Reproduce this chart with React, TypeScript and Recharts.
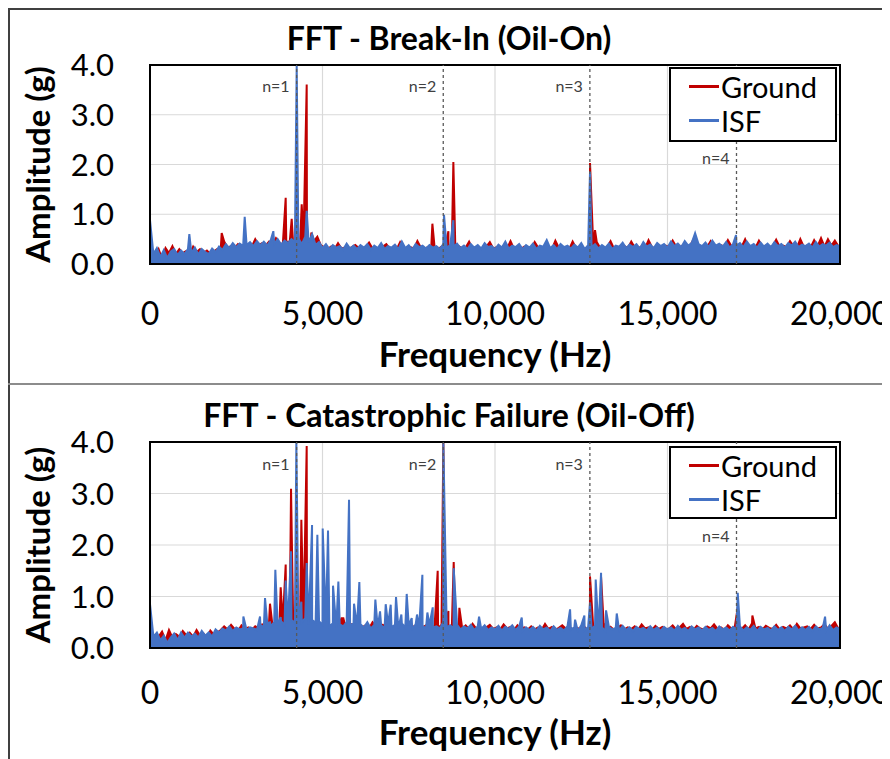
import {
  AreaChart,
  Area,
  XAxis,
  YAxis,
  CartesianGrid,
  ReferenceLine,
  ReferenceArea,
  Legend,
} from "recharts";

const FONT = "Lato, 'Open Sans', sans-serif";
const RED = "#c00000";
const BLUE = "#4472c4";
const W = 882;

const FREQ_TICKS = [0, 5000, 10000, 15000, 20000];
const AMP_TICKS = [0, 1, 2, 3, 4];
const HARMONICS = [4250, 8500, 12750, 17000];
const HARMONIC_LABELS = ["n=1", "n=2", "n=3", "n=4"];

// noise floor: ISF at 0,100,...,20000 Hz, Ground at 50,150,...,19950 Hz
const oilOnIsfFloor = [
  0.88, 0.2, 0.32, 0.14, 0.28, 0.12, 0.25, 0.3, 0.18, 0.27,
  0.2, 0.3, 0.22, 0.33, 0.19, 0.3, 0.24, 0.2, 0.31, 0.24,
  0.35, 0.28, 0.4, 0.32, 0.42, 0.34, 0.41, 0.36, 0.38, 0.44,
  0.36, 0.46, 0.38, 0.45, 0.37, 0.48, 0.4, 0.5, 0.39, 0.47,
  0.42, 0.5, 0.44, 0.52, 0.4, 0.55, 0.43, 0.6, 0.38, 0.44,
  0.32, 0.4, 0.3, 0.38, 0.33, 0.36, 0.29, 0.41, 0.31, 0.37,
  0.3, 0.38, 0.33, 0.4, 0.29, 0.37, 0.32, 0.42, 0.3, 0.36,
  0.33, 0.39, 0.3, 0.45, 0.32, 0.38, 0.29, 0.4, 0.34, 0.37,
  0.31, 0.38, 0.33, 0.36, 0.3, 0.4, 0.32, 0.38, 0.35, 0.41,
  0.32, 0.37, 0.3, 0.4, 0.33, 0.38, 0.31, 0.42, 0.34, 0.36,
  0.3, 0.39, 0.33, 0.45, 0.31, 0.37, 0.34, 0.4, 0.3, 0.38,
  0.33, 0.41, 0.3, 0.37, 0.35, 0.48, 0.32, 0.38, 0.3, 0.4,
  0.34, 0.37, 0.31, 0.39, 0.33, 0.42, 0.3, 0.38, 0.34, 0.4,
  0.31, 0.38, 0.33, 0.41, 0.3, 0.37, 0.35, 0.43, 0.32, 0.39,
  0.34, 0.4, 0.31, 0.44, 0.35, 0.39, 0.32, 0.42, 0.36, 0.4,
  0.33, 0.45, 0.36, 0.41, 0.34, 0.46, 0.37, 0.42, 0.35, 0.4,
  0.36, 0.43, 0.34, 0.47, 0.37, 0.41, 0.35, 0.44, 0.33, 0.4,
  0.37, 0.42, 0.34, 0.45, 0.36, 0.4, 0.33, 0.43, 0.35, 0.41,
  0.34, 0.44, 0.36, 0.4, 0.33, 0.42, 0.37, 0.45, 0.34, 0.39,
  0.36, 0.41, 0.33, 0.44, 0.35, 0.4, 0.37, 0.43, 0.34, 0.38,
  0.35,
];

const oilOnGroundFloor = [
  0.3, 0.15, 0.3, 0.1, 0.32, 0.22, 0.36, 0.2, 0.3, 0.22,
  0.26, 0.2, 0.35, 0.24, 0.3, 0.22, 0.27, 0.2, 0.25, 0.3,
  0.3, 0.45, 0.33, 0.36, 0.32, 0.4, 0.35, 0.33, 0.38, 0.35,
  0.5, 0.38, 0.42, 0.37, 0.45, 0.4, 0.52, 0.42, 0.4, 0.45,
  0.44, 0.4, 0.46, 0.42, 0.5, 0.45, 0.4, 0.46, 0.55, 0.38,
  0.33, 0.3, 0.35, 0.3, 0.42, 0.31, 0.33, 0.3, 0.34, 0.38,
  0.32, 0.3, 0.34, 0.43, 0.31, 0.33, 0.3, 0.35, 0.4, 0.31,
  0.33, 0.3, 0.44, 0.32, 0.3, 0.34, 0.31, 0.46, 0.33, 0.3,
  0.34, 0.31, 0.33, 0.3, 0.35, 0.32, 0.3, 0.42, 0.33, 0.36,
  0.31, 0.33, 0.45, 0.31, 0.34, 0.3, 0.32, 0.35, 0.44, 0.31,
  0.34, 0.3, 0.36, 0.32, 0.46, 0.31, 0.33, 0.3, 0.35, 0.33,
  0.31, 0.44, 0.33, 0.3, 0.34, 0.32, 0.3, 0.47, 0.33, 0.31,
  0.33, 0.3, 0.45, 0.32, 0.34, 0.31, 0.3, 0.35, 0.33, 0.44,
  0.32, 0.3, 0.34, 0.46, 0.31, 0.33, 0.3, 0.36, 0.32, 0.45,
  0.33, 0.31, 0.36, 0.32, 0.48, 0.34, 0.31, 0.35, 0.33, 0.37,
  0.34, 0.47, 0.35, 0.33, 0.38, 0.34, 0.36, 0.49, 0.35, 0.33,
  0.37, 0.34, 0.46, 0.35, 0.33, 0.38, 0.35, 0.48, 0.36, 0.34,
  0.38, 0.35, 0.5, 0.34, 0.36, 0.33, 0.47, 0.35, 0.37, 0.34,
  0.36, 0.49, 0.35, 0.37, 0.34, 0.46, 0.36, 0.33, 0.5, 0.35,
  0.37, 0.34, 0.48, 0.36, 0.52, 0.35, 0.5, 0.37, 0.47, 0.36,
];

// [Hz, g]
const oilOnIsfPeaks = [
  [1140, 0.6], [2745, 0.95], [3575, 0.66], [4252, 4.0], [4542, 1.07],
  [8522, 0.99], [8793, 0.88], [12754, 1.85], [15800, 0.62], [16986, 0.58],
];
const oilOnGroundPeaks = [
  [2078, 0.62], [3933, 1.33], [4107, 0.91], [4397, 1.2], [4542, 3.61], [4677, 0.63],
  [8185, 0.81], [8649, 0.66], [8793, 2.05], [12754, 2.03], [12899, 0.68],
];

const oilOffIsfFloor = [
  0.85, 0.22, 0.3, 0.15, 0.24, 0.1, 0.2, 0.28, 0.15, 0.3,
  0.2, 0.3, 0.22, 0.28, 0.2, 0.33, 0.24, 0.3, 0.22, 0.36,
  0.3, 0.38, 0.34, 0.42, 0.33, 0.4, 0.36, 0.38, 0.35, 0.4,
  0.38, 0.35, 0.45, 0.4, 0.48, 0.42, 0.5, 0.44, 0.52, 0.45,
  0.5, 0.55, 0.48, 0.6, 0.5, 0.58, 0.46, 0.55, 0.48, 0.52,
  0.45, 0.5, 0.42, 0.48, 0.4, 0.46, 0.42, 0.5, 0.44, 0.48,
  0.42, 0.46, 0.4, 0.5, 0.38, 0.45, 0.4, 0.44, 0.38, 0.46,
  0.4, 0.45, 0.38, 0.48, 0.4, 0.44, 0.37, 0.46, 0.4, 0.43,
  0.38, 0.45, 0.4, 0.42, 0.38, 0.5, 0.4, 0.44, 0.38, 0.45,
  0.36, 0.42, 0.38, 0.45, 0.35, 0.42, 0.37, 0.44, 0.35, 0.4,
  0.36, 0.43, 0.34, 0.41, 0.37, 0.44, 0.35, 0.42, 0.33, 0.4,
  0.35, 0.41, 0.34, 0.43, 0.36, 0.4, 0.33, 0.42, 0.35, 0.39,
  0.34, 0.42, 0.36, 0.4, 0.33, 0.44, 0.35, 0.41, 0.37, 0.43,
  0.35, 0.4, 0.33, 0.42, 0.36, 0.39, 0.34, 0.43, 0.35, 0.4,
  0.33, 0.41, 0.36, 0.39, 0.34, 0.42, 0.35, 0.4, 0.33, 0.41,
  0.36, 0.4, 0.34, 0.43, 0.35, 0.39, 0.33, 0.42, 0.36, 0.4,
  0.34, 0.41, 0.35, 0.39, 0.33, 0.42, 0.36, 0.4, 0.34, 0.41,
  0.36, 0.42, 0.34, 0.4, 0.35, 0.43, 0.33, 0.41, 0.36, 0.39,
  0.34, 0.42, 0.35, 0.4, 0.33, 0.41, 0.36, 0.43, 0.34, 0.4,
  0.35, 0.41, 0.33, 0.42, 0.36, 0.39, 0.34, 0.44, 0.35, 0.4,
  0.36,
];

const oilOffGroundFloor = [
  0.28, 0.18, 0.22, 0.32, 0.15, 0.35, 0.2, 0.27, 0.22, 0.33,
  0.25, 0.3, 0.22, 0.35, 0.24, 0.28, 0.2, 0.34, 0.26, 0.3,
  0.35, 0.42, 0.36, 0.45, 0.37, 0.33, 0.44, 0.36, 0.4, 0.35,
  0.42, 0.38, 0.46, 0.4, 0.5, 0.44, 0.48, 0.42, 0.5, 0.46,
  0.52, 0.5, 0.56, 0.48, 0.55, 0.5, 0.58, 0.48, 0.5, 0.46,
  0.44, 0.48, 0.4, 0.5, 0.42, 0.58, 0.45, 0.4, 0.46, 0.42,
  0.48, 0.4, 0.44, 0.38, 0.5, 0.42, 0.4, 0.45, 0.39, 0.43,
  0.41, 0.47, 0.38, 0.42, 0.4, 0.5, 0.39, 0.44, 0.38, 0.42,
  0.46, 0.4, 0.43, 0.39, 0.45, 0.41, 0.38, 0.44, 0.4, 0.42,
  0.38, 0.44, 0.36, 0.47, 0.38, 0.42, 0.36, 0.4, 0.45, 0.37,
  0.4, 0.36, 0.46, 0.38, 0.41, 0.35, 0.44, 0.37, 0.4, 0.36,
  0.42, 0.36, 0.4, 0.35, 0.47, 0.37, 0.41, 0.35, 0.39, 0.44,
  0.38, 0.42, 0.35, 0.4, 0.37, 0.45, 0.36, 0.4, 0.38, 0.42,
  0.37, 0.48, 0.36, 0.41, 0.35, 0.39, 0.44, 0.36, 0.4, 0.37,
  0.42, 0.36, 0.46, 0.38, 0.4, 0.35, 0.43, 0.37, 0.41, 0.36,
  0.38, 0.44, 0.36, 0.4, 0.47, 0.37, 0.41, 0.35, 0.43, 0.38,
  0.36, 0.42, 0.38, 0.46, 0.37, 0.4, 0.35, 0.44, 0.38, 0.41,
  0.4, 0.37, 0.44, 0.36, 0.48, 0.38, 0.41, 0.36, 0.43, 0.39,
  0.37, 0.45, 0.36, 0.41, 0.38, 0.44, 0.36, 0.47, 0.38, 0.4,
  0.42, 0.37, 0.45, 0.38, 0.4, 0.46, 0.37, 0.43, 0.5, 0.38,
];

const oilOffIsfPeaks = [
  [2706, 0.61], [3189, 0.61], [3334, 0.97], [3478, 0.5], [3633, 1.52], [3788, 0.6],
  [3933, 1.31], [4088, 1.88], [4242, 4.0], [4387, 0.9], [4542, 1.65], [4697, 2.39],
  [4851, 2.2], [5006, 2.32], [5160, 2.28], [5305, 1.21], [5460, 1.29], [5769, 2.88],
  [5914, 0.86], [6068, 1.28], [6532, 0.94], [6668, 0.71], [6832, 0.85], [6977, 0.84],
  [7131, 0.99], [7286, 0.65], [7441, 1.05], [7586, 0.58], [7740, 0.65], [7895, 1.42],
  [8040, 0.69], [8195, 0.79], [8503, 4.0], [8803, 1.55], [9538, 0.61], [10775, 0.59],
  [12176, 0.75], [12321, 0.55], [12591, 0.63], [12754, 0.88], [12919, 1.33], [13074, 1.46],
  [13219, 0.73], [13529, 0.67], [17036, 1.07], [19567, 0.61],
];
const oilOffGroundPeaks = [
  [3478, 0.86], [3788, 1.18], [3933, 1.62], [4088, 3.09], [4387, 2.49], [4542, 3.92],
  [5605, 0.58], [8339, 1.5], [8503, 4.0], [8649, 0.72], [8803, 1.67], [8967, 0.78],
  [12754, 1.39], [13074, 1.38], [17036, 0.79], [17460, 0.63],
];

type Row = { f: number; ground?: number; isf?: number };

function buildRows(
  isfFloor: number[],
  groundFloor: number[],
  isfPeaks: number[][],
  groundPeaks: number[][]
): Row[] {
  const rows = new Map<number, Row>();
  const put = (f: number, key: "ground" | "isf", v: number) => {
    const r = rows.get(f) ?? { f };
    r[key] = v;
    rows.set(f, r);
  };
  isfFloor.forEach((v, i) => put(i * 100, "isf", v));
  groundFloor.forEach((v, i) => put(50 + i * 100, "ground", v));
  isfPeaks.forEach(([f, v]) => put(f, "isf", v));
  groundPeaks.forEach(([f, v]) => put(f, "ground", v));
  return [...rows.values()].sort((a, b) => a.f - b.f);
}

const oilOnRows = buildRows(oilOnIsfFloor, oilOnGroundFloor, oilOnIsfPeaks, oilOnGroundPeaks);
const oilOffRows = buildRows(oilOffIsfFloor, oilOffGroundFloor, oilOffIsfPeaks, oilOffGroundPeaks);

function HarmonicLabel({ viewBox, text, drop }: any) {
  if (!viewBox) return null;
  return (
    <text
      x={viewBox.x - 7}
      y={viewBox.y + drop}
      textAnchor="end"
      dominantBaseline="central"
      fontFamily={FONT}
      fontSize={16}
      fill="#404040"
    >
      {text}
    </text>
  );
}

function LegendBox({ payload }: any) {
  return (
    <div
      style={{
        boxSizing: "border-box",
        width: "100%",
        height: "100%",
        border: "2px solid #000",
        background: "#fff",
        paddingLeft: 18,
        fontFamily: FONT,
        fontSize: 29,
        color: "#000",
      }}
    >
      {(payload ?? []).map((e: any) => (
        <div key={e.value} style={{ display: "flex", alignItems: "center", height: 34 }}>
          <span style={{ width: 30, height: 3, background: e.color, marginRight: 2 }} />
          <span>{e.value}</span>
        </div>
      ))}
    </div>
  );
}

type PanelProps = {
  title: string;
  rows: Row[];
  top: number;
  height: number;
  plotTop: number;
  plotBottom: number;
  tickGap: number;
  labelGap: number;
  titleY: number;
  legendTop: number;
  legendHeight: number;
  nDrop: number;
  n4Drop: number;
};

function FftPanel(p: PanelProps) {
  return (
    <div style={{ position: "absolute", left: 0, top: p.top, width: W, height: p.height }}>
      <div
        style={{
          position: "absolute",
          left: 0,
          width: W,
          top: p.titleY - 18,
          height: 36,
          lineHeight: "36px",
          textAlign: "center",
          fontFamily: FONT,
          fontWeight: 700,
          fontSize: 32,
          color: "#000",
        }}
      >
        {p.title}
      </div>
      <AreaChart
        width={W}
        height={p.height}
        data={p.rows}
        margin={{ top: p.plotTop, right: 50, bottom: 0, left: 0 }}
      >
        <CartesianGrid stroke="#d9d9d9" strokeWidth={1.2} />
        <XAxis
          dataKey="f"
          type="number"
          domain={[0, 20000]}
          ticks={FREQ_TICKS}
          interval={0}
          allowDataOverflow
          height={p.height - p.plotBottom}
          axisLine={false}
          tickLine={false}
          tickSize={0}
          tickMargin={p.tickGap}
          tickFormatter={(v: number) => v.toLocaleString("en-US")}
          tick={{ fill: "#000", fontSize: 32, fontFamily: FONT }}
          label={{
            value: "Frequency (Hz)",
            position: "insideTop",
            offset: p.labelGap,
            fill: "#000",
            fontSize: 35,
            fontWeight: 700,
            fontFamily: FONT,
          }}
        />
        <YAxis
          type="number"
          domain={[0, 4]}
          ticks={AMP_TICKS}
          allowDataOverflow
          width={142}
          axisLine={false}
          tickLine={false}
          tickSize={0}
          tickMargin={36}
          tickFormatter={(v: number) => v.toFixed(1)}
          tick={{ fill: "#000", fontSize: 31, fontFamily: FONT }}
          label={{
            value: "Amplitude (g)",
            angle: -90,
            position: "insideLeft",
            offset: 30,
            fill: "#000",
            fontSize: 33,
            fontWeight: 700,
            fontFamily: FONT,
            style: { textAnchor: "middle" },
          }}
        />
        {HARMONICS.map((f, i) => (
          <ReferenceLine
            key={f}
            x={f}
            stroke="#595959"
            strokeWidth={1.3}
            strokeDasharray="3 3"
            label={<HarmonicLabel text={HARMONIC_LABELS[i]} drop={i === 3 ? p.n4Drop : p.nDrop} />}
          />
        ))}
        <Area
          dataKey="ground"
          name="Ground"
          type="linear"
          stroke={RED}
          fill={RED}
          fillOpacity={1}
          strokeWidth={2}
          connectNulls
          dot={false}
          activeDot={false}
          isAnimationActive={false}
        />
        <Area
          dataKey="isf"
          name="ISF"
          type="linear"
          stroke={BLUE}
          fill={BLUE}
          fillOpacity={1}
          strokeWidth={2}
          connectNulls
          dot={false}
          activeDot={false}
          isAnimationActive={false}
        />
        <ReferenceArea
          x1={0}
          x2={20000}
          y1={0}
          y2={4}
          fill="none"
          stroke="#000"
          strokeWidth={2}
          ifOverflow="visible"
        />
        <Legend
          layout="vertical"
          align="center"
          verticalAlign="middle"
          content={<LegendBox />}
          wrapperStyle={{
            position: "absolute",
            left: 661,
            top: p.legendTop,
            width: 168,
            height: p.legendHeight,
          }}
        />
      </AreaChart>
    </div>
  );
}

export default function App() {
  return (
    <div style={{ position: "relative", width: W, height: 751, background: "#fff" }}>
      <FftPanel
        title="FFT - Break-In (Oil-On)"
        rows={oilOnRows}
        top={0}
        height={376}
        plotTop={57}
        plotBottom={256}
        tickGap={38}
        labelGap={78}
        titleY={30}
        legendTop={59}
        legendHeight={75}
        nDrop={20}
        n4Drop={92}
      />
      <FftPanel
        title="FFT - Catastrophic Failure (Oil-Off)"
        rows={oilOffRows}
        top={376}
        height={375}
        plotTop={58}
        plotBottom={264}
        tickGap={33}
        labelGap={72}
        titleY={31}
        legendTop={62}
        legendHeight={73}
        nDrop={21}
        n4Drop={93}
      />
      <div style={{ position: "absolute", left: 0, top: 0, width: W, height: 2, background: "#404040" }} />
      <div style={{ position: "absolute", left: 0, top: 0, width: 2, height: 751, background: "#404040" }} />
      <div style={{ position: "absolute", left: 0, top: 375, width: W, height: 2, background: "#8c8c8c" }} />
    </div>
  );
}
